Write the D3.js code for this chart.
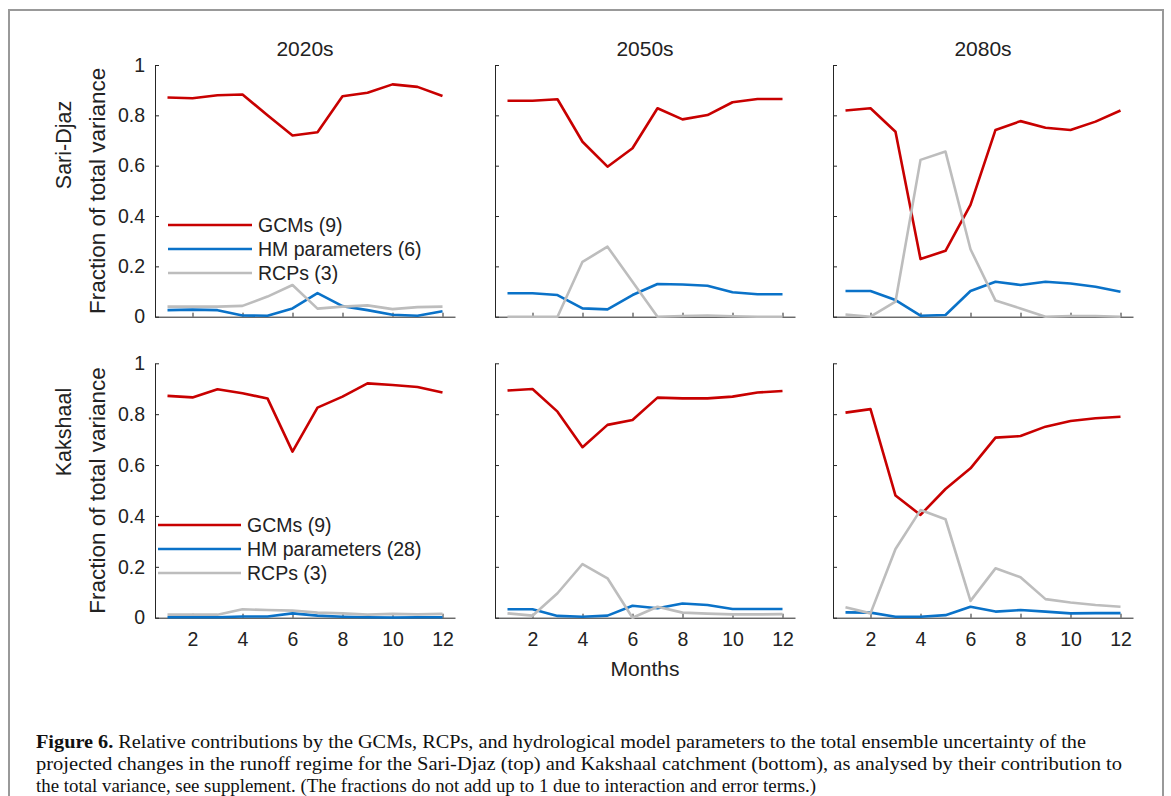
<!DOCTYPE html>
<html>
  <head>
    <title>Variance fractions</title>
    <meta charset="utf-8" />
    <style>
      body { margin: 0; background: #fff; }
    </style>
  </head>
  <body>
    <div id="fig"></div>
    <script src="https://d3js.org/d3.v7.min.js"></script>
    <script type="text/javascript">
        const months = [1, 2, 3, 4, 5, 6, 7, 8, 9, 10, 11, 12];
        const periods = ["2020s", "2050s", "2080s"];
        const catchments = ["Sari-Djaz", "Kakshaal"];
        const yTicks = [0, 0.2, 0.4, 0.6, 0.8, 1];
        const xTicks = [2, 4, 6, 8, 10, 12];
        const sariLegend = ["GCMs (9)", "HM parameters (6)", "RCPs (3)"];
        const kakLegend = ["GCMs (9)", "HM parameters (28)", "RCPs (3)"];

        // Sari-Djaz
        const gcmSari2020 = [0.871, 0.868, 0.88, 0.883, 0.80, 0.72, 0.733, 0.876, 0.89, 0.923, 0.913, 0.877];
        const hmSari2020  = [0.026, 0.028, 0.026, 0.005, 0.004, 0.033, 0.094, 0.042, 0.026, 0.008, 0.004, 0.022];
        const rcpSari2020 = [0.04, 0.04, 0.04, 0.043, 0.08, 0.126, 0.032, 0.04, 0.045, 0.03, 0.038, 0.04];
        const gcmSari2050 = [0.858, 0.858, 0.864, 0.695, 0.596, 0.669, 0.828, 0.784, 0.801, 0.852, 0.865, 0.865];
        const hmSari2050  = [0.093, 0.093, 0.086, 0.033, 0.029, 0.086, 0.13, 0.128, 0.123, 0.097, 0.089, 0.089];
        const rcpSari2050 = [0, 0, 0, 0.218, 0.278, 0.139, 0, 0.003, 0.005, 0.002, 0, 0];
        const gcmSari2080 = [0.819, 0.828, 0.735, 0.229, 0.262, 0.444, 0.742, 0.777, 0.751, 0.742, 0.775, 0.819];
        const hmSari2080  = [0.102, 0.102, 0.066, 0.004, 0.007, 0.102, 0.139, 0.126, 0.139, 0.132, 0.119, 0.099];
        const rcpSari2080 = [0.009, 0, 0.06, 0.623, 0.656, 0.268, 0.064, 0.033, 0, 0.003, 0.003, 0];

        // Kakshaal
        const gcmKak2020 = [0.872, 0.866, 0.898, 0.882, 0.862, 0.653, 0.826, 0.869, 0.921, 0.915, 0.907, 0.885];
        const hmKak2020  = [0.002, 0.002, 0.002, 0.005, 0.005, 0.017, 0.008, 0.004, 0.002, 0.001, 0.002, 0.002];
        const rcpKak2020 = [0.012, 0.012, 0.012, 0.033, 0.03, 0.028, 0.02, 0.017, 0.012, 0.015, 0.013, 0.015];
        const gcmKak2050 = [0.893, 0.899, 0.81, 0.67, 0.758, 0.777, 0.865, 0.862, 0.862, 0.869, 0.885, 0.891];
        const hmKak2050  = [0.033, 0.033, 0.007, 0.004, 0.008, 0.047, 0.037, 0.056, 0.05, 0.034, 0.034, 0.034];
        const rcpKak2050 = [0.017, 0.008, 0.096, 0.211, 0.155, 0, 0.043, 0.02, 0.016, 0.013, 0.013, 0.014];
        const gcmKak2080 = [0.806, 0.82, 0.48, 0.404, 0.506, 0.587, 0.708, 0.714, 0.751, 0.773, 0.784, 0.79];
        const hmKak2080  = [0.021, 0.02, 0.004, 0.004, 0.01, 0.043, 0.024, 0.03, 0.024, 0.017, 0.018, 0.018];
        const rcpKak2080 = [0.041, 0.017, 0.27, 0.423, 0.387, 0.066, 0.194, 0.159, 0.073, 0.06, 0.05, 0.043];

        const panels = [
            [[gcmSari2020, hmSari2020, rcpSari2020], [gcmSari2050, hmSari2050, rcpSari2050], [gcmSari2080, hmSari2080, rcpSari2080]],
            [[gcmKak2020, hmKak2020, rcpKak2020], [gcmKak2050, hmKak2050, rcpKak2050], [gcmKak2080, hmKak2080, rcpKak2080]]
        ];

        const width = 1171;
        const height = 796;
        const colors = ["#c80000", "#0a72c8", "#bdbdbd"];
        const font = "'Liberation Sans', Arial, sans-serif";
        const colX = [[155, 455], [495, 795], [833, 1133]];
        const rowY = [[316.7, 65], [617.7, 363.3]];
        const legendPos = [{x0: 168, x1: 252, y: 225, dy: 24}, {x0: 158, x1: 241, y: 525, dy: 24}];

        const svg = d3.select("#fig").append("svg")
            .attr("width", width)
            .attr("height", height)
            .attr("font-family", font);

        // frame
        svg.append("path")
            .attr("d", `M9,${height}V10H1163V${height}`)
            .attr("fill", "none")
            .attr("stroke", "#999")
            .attr("stroke-width", 2);

        panels.forEach((row, r) => {
            const y = d3.scaleLinear().domain([0, 1]).range(rowY[r]);
            row.forEach((series, c) => {
                const x = d3.scaleLinear().domain([0.5, 12.5]).range(colX[c]);
                const g = svg.append("g");

                g.append("g")
                    .attr("transform", `translate(0,${rowY[r][0]})`)
                    .call(d3.axisBottom(x).tickValues(xTicks).tickSizeInner(-4).tickSizeOuter(0)
                        .tickPadding(14).tickFormat(r === 1 ? d => d : () => ""))
                    .call(a => a.selectAll("text").attr("font-size", 19.5).attr("fill", "#222").attr("font-family", font))
                    .call(a => a.selectAll("line,path").attr("stroke", "#262626"));

                g.append("g")
                    .attr("transform", `translate(${colX[c][0]},0)`)
                    .call(d3.axisLeft(y).tickValues(yTicks).tickSizeInner(-4).tickSizeOuter(0)
                        .tickPadding(10).tickFormat(c === 0 ? d => d : () => ""))
                    .call(a => a.selectAll("text").attr("font-size", 19.5).attr("fill", "#222").attr("font-family", font))
                    .call(a => a.selectAll("line,path").attr("stroke", "#262626"));

                const line = d3.line().x((d, i) => x(months[i])).y(d => y(d));
                series.forEach((s, k) => {
                    g.append("path")
                        .datum(s)
                        .attr("fill", "none")
                        .attr("stroke", colors[k])
                        .attr("stroke-width", 2.6)
                        .attr("stroke-linejoin", "round")
                        .attr("d", line);
                });

                if (r === 0) {
                    svg.append("text")
                        .attr("x", (colX[c][0] + colX[c][1]) / 2)
                        .attr("y", 56)
                        .attr("text-anchor", "middle")
                        .attr("font-size", 21)
                        .attr("fill", "#222")
                        .text(periods[c]);
                }
            });

            // legend
            const lp = legendPos[r];
            const labels = r === 0 ? sariLegend : kakLegend;
            labels.forEach((t, k) => {
                svg.append("line")
                    .attr("x1", lp.x0).attr("x2", lp.x1)
                    .attr("y1", lp.y + k * lp.dy).attr("y2", lp.y + k * lp.dy)
                    .attr("stroke", colors[k]).attr("stroke-width", 2.6);
                svg.append("text")
                    .attr("x", lp.x1 + 6)
                    .attr("y", lp.y + k * lp.dy)
                    .attr("dy", "0.35em")
                    .attr("font-size", 19.5)
                    .attr("fill", "#222")
                    .text(t);
            });

            const cy = (rowY[r][0] + rowY[r][1]) / 2;
            svg.append("text")
                .attr("transform", `translate(105,${cy}) rotate(-90)`)
                .attr("text-anchor", "middle")
                .attr("font-size", 22.5)
                .attr("fill", "#222")
                .text("Fraction of total variance");
            svg.append("text")
                .attr("transform", `translate(71,${r === 0 ? 145 : 432}) rotate(-90)`)
                .attr("text-anchor", "middle")
                .attr("font-size", 21.5)
                .attr("fill", "#222")
                .text(catchments[r]);
        });

        svg.append("text")
            .attr("x", 645)
            .attr("y", 676)
            .attr("text-anchor", "middle")
            .attr("font-size", 21)
            .attr("fill", "#222")
            .text("Months");

        const caption = [
            ["Figure 6.", " Relative contributions by the GCMs, RCPs, and hydrological model parameters to the total ensemble uncertainty of the", 1050],
            ["", "projected changes in the runoff regime for the Sari-Djaz (top) and Kakshaal catchment (bottom), as analysed by their contribution to", 1086],
            ["", "the total variance, see supplement. (The fractions do not add up to 1 due to interaction and error terms.)", 780]
        ];
        const capFont = "'Liberation Serif', 'DejaVu Serif', serif";
        caption.forEach((l, i) => {
            const t = svg.append("text")
                .attr("x", 36)
                .attr("y", 748 + i * 22)
                .attr("font-family", capFont)
                .attr("font-size", 19)
                .attr("fill", "#111")
                .attr("textLength", l[2])
                .attr("lengthAdjust", "spacingAndGlyphs");
            if (l[0]) t.append("tspan").attr("font-weight", "bold").text(l[0]);
            t.append("tspan").text(l[1]);
        });
    </script>
  </body>
</html>
